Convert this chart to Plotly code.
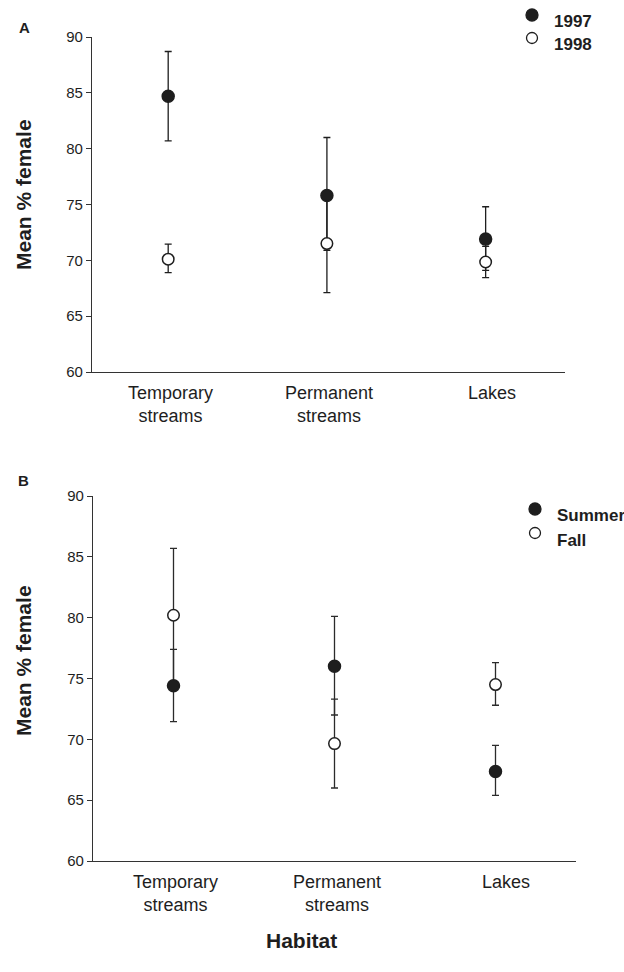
import plotly.graph_objects as go

# Habitat categories shared by both panels
habitats = ["Temporary<br>streams", "Permanent<br>streams", "Lakes"]
hab_x = [0, 1, 2]

# Panel A: mean % female by year
y1997 = [84.7, 75.8, 71.9]
y1997_up = [4.0, 5.2, 2.9]
y1997_dn = [4.0, 4.9, 2.8]
y1998 = [70.1, 71.5, 69.85]
y1998_up = [1.35, 4.4, 1.4]
y1998_dn = [1.2, 4.4, 1.4]

# Panel B: mean % female by season
summer = [74.4, 76.0, 67.35]
summer_up = [3.0, 4.1, 2.15]
summer_dn = [2.95, 4.0, 1.95]
fall = [80.2, 69.65, 74.5]
fall_up = [5.5, 3.65, 1.8]
fall_dn = [5.5, 3.65, 1.7]

yticks = [60, 65, 70, 75, 80, 85, 90]

W, H = 624, 972
FONT = "Liberation Sans, Arial, sans-serif"
INK = "#1e1e1e"


def fx(px):
    return px / W


def fy(px):
    return 1 - px / H


fig = go.Figure()


def add_bars(vals, up, dn, xa, ya, bar_color):
    # error bars first (drawn beneath every marker)
    fig.add_trace(go.Scatter(
        x=hab_x, y=vals, mode="markers", xaxis=xa, yaxis=ya,
        marker=dict(size=1, color="rgba(0,0,0,0)"),
        error_y=dict(type="data", symmetric=False, array=up, arrayminus=dn,
                     color=bar_color, thickness=1.3, width=3.5),
        showlegend=False, hoverinfo="skip"))


def add_markers(vals, filled, xa, ya):
    fig.add_trace(go.Scatter(
        x=hab_x, y=vals, mode="markers", xaxis=xa, yaxis=ya,
        marker=dict(size=12 if filled else 11.5,
                    color=INK if filled else "white",
                    line=dict(color=INK, width=1.5)),
        showlegend=False))


add_bars(y1998, y1998_up, y1998_dn, "x", "y", INK)
add_bars(y1997, y1997_up, y1997_dn, "x", "y", INK)
add_markers(y1997, True, "x", "y")
add_markers(y1998, False, "x", "y")

add_bars(fall, fall_up, fall_dn, "x2", "y2", "#2b2b2b")
add_bars(summer, summer_up, summer_dn, "x2", "y2", "#2b2b2b")
add_markers(summer, True, "x2", "y2")
add_markers(fall, False, "x2", "y2")

yaxis_style = dict(range=[60, 90], tickvals=yticks, ticks="outside", ticklen=5,
                   tickwidth=1, tickcolor="#333", showline=True, linecolor="#333",
                   linewidth=1.3, showgrid=False, zeroline=False, automargin=False,
                   tickfont=dict(family=FONT, size=15, color=INK))
xaxis_style = dict(showline=True, linecolor="#333", linewidth=1.3, showgrid=False,
                   zeroline=False, ticks="", showticklabels=False, automargin=False)

fig.update_layout(
    width=W, height=H,
    margin=dict(l=0, r=0, t=0, b=0, autoexpand=False),
    paper_bgcolor="white", plot_bgcolor="white",
    showlegend=False,
    xaxis=dict(domain=[fx(92), fx(565)], range=[-0.48, 2.5], anchor="y", **xaxis_style),
    yaxis=dict(domain=[fy(372), fy(37)], anchor="x", **yaxis_style),
    xaxis2=dict(domain=[fx(93), fx(576)], range=[-0.5, 2.5], anchor="y2", **xaxis_style),
    yaxis2=dict(domain=[fy(861), fy(496)], anchor="x2", **yaxis_style),
)

ann = []
# category labels under each panel
for xa, ya, lake_shift in (("x", "y", 6), ("x2", "y2", 10)):
    for i, lab in zip(hab_x, habitats):
        ann.append(dict(x=i, y=60, xref=xa, yref=ya, text=lab, showarrow=False,
                        yanchor="top", xanchor="center", yshift=-9,
                        xshift=lake_shift if i == 2 else 2,
                        font=dict(family=FONT, size=18, color=INK)))


def paper_text(x, y, text, size, angle=0, xanchor="center"):
    ann.append(dict(x=fx(x), y=fy(y), xref="paper", yref="paper", text=text,
                    textangle=angle, showarrow=False, xanchor=xanchor,
                    yanchor="middle", font=dict(family=FONT, size=size, color=INK)))


# y-axis titles
for ycen in (195, 661):
    paper_text(23, ycen, "<b>Mean % female</b>", 21, angle=-90)

# panel letters
paper_text(24, 28, "<b>A</b>", 15)
paper_text(23, 480, "<b>B</b>", 15)

# shared x title
paper_text(301, 940, "<b>Habitat</b>", 21)

# legend entries (marker circle + label)
legend_items = [
    ("1997", True, 532, 15, 552, 22),
    ("1998", False, 532, 38, 552, 44),
    ("Summer", True, 535, 509, 555, 515),
    ("Fall", False, 535, 533, 555, 540),
]
shapes = []
for text, filled, mx, my, tx, ty in legend_items:
    r = 6 if filled else 5.5
    shapes.append(dict(type="circle", xref="paper", yref="paper",
                       x0=fx(mx - r), x1=fx(mx + r), y0=fy(my + r), y1=fy(my - r),
                       fillcolor=INK if filled else "white",
                       line=dict(color=INK, width=1.3)))
    paper_text(tx, ty, f"<b>{text}</b>", 17, xanchor="left")

fig.update_layout(annotations=ann, shapes=shapes)

fig.write_html("out.html")
